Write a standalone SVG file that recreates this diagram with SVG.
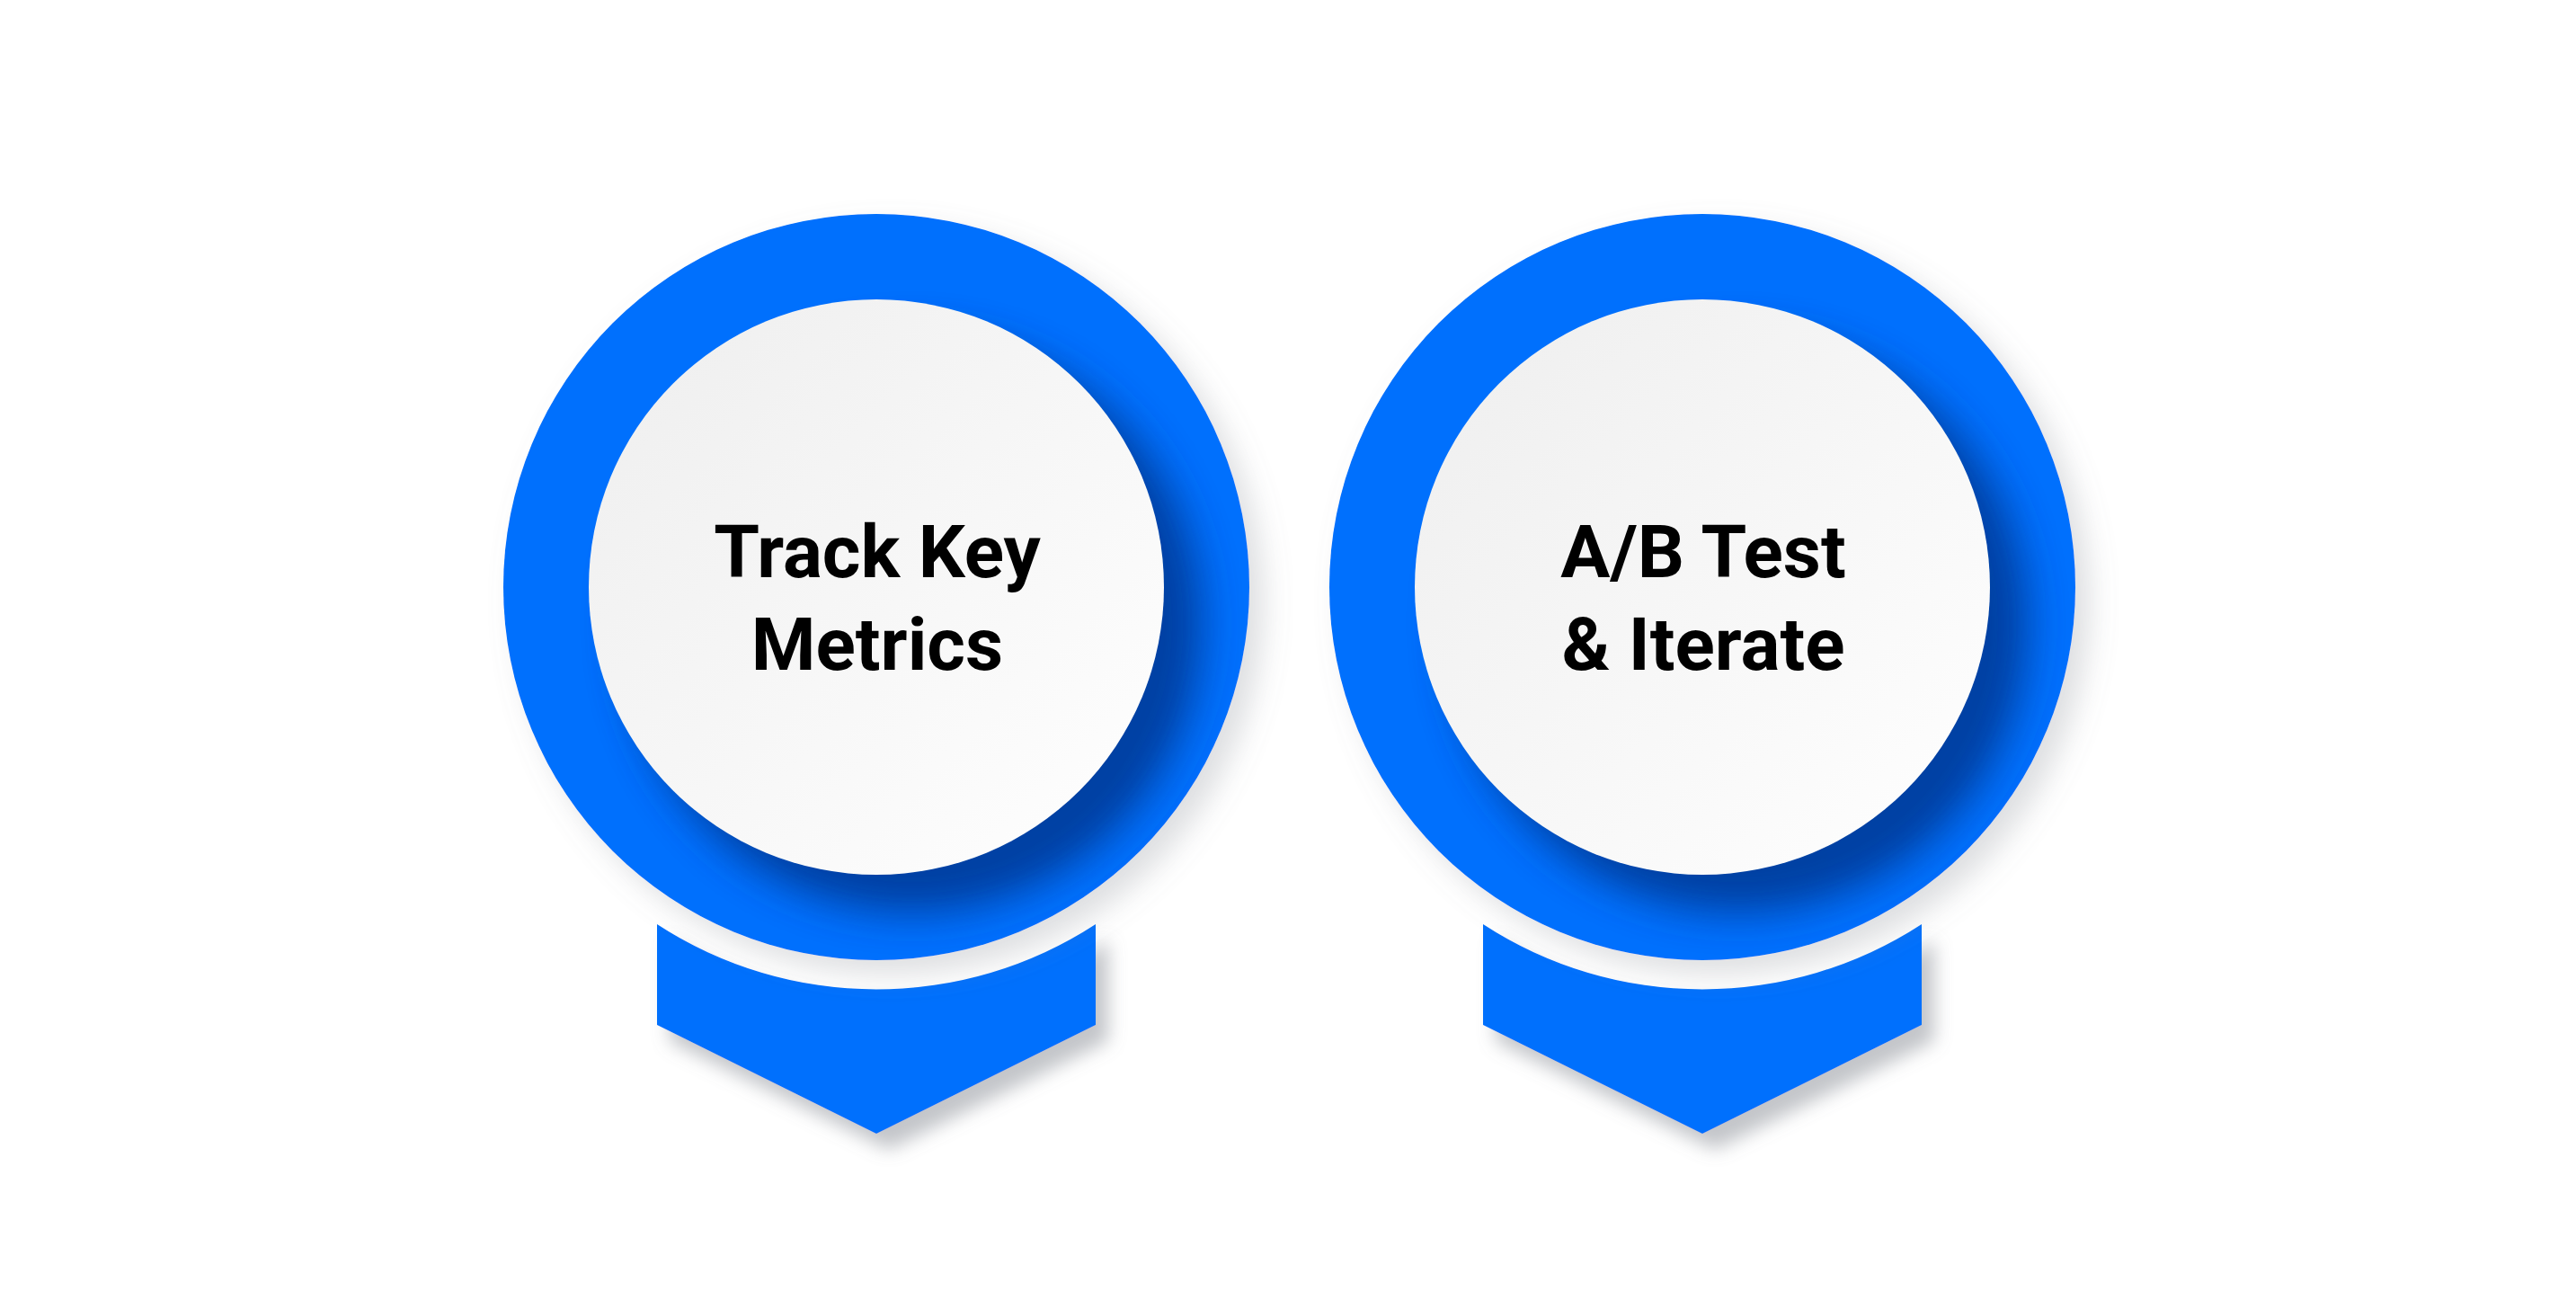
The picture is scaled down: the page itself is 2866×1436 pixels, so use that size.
<svg xmlns="http://www.w3.org/2000/svg" width="2866" height="1436" viewBox="0 0 2866 1436">
<style>
.ring{fill:#0070fd;}
.chev{fill:#0070fd;}
.face{fill:url(#faceGrad);}
.lbl{font-family:Roboto,"Liberation Sans",Arial,sans-serif;font-weight:700;font-size:82px;fill:#000;text-anchor:middle;}
</style>
<defs>
<linearGradient id="faceGrad" x1="0" y1="0" x2="1" y2="1">
<stop offset="0" stop-color="#eeeeee"/>
<stop offset="1" stop-color="#ffffff"/>
</linearGradient>
<filter id="grayShadow" x="-20%" y="-20%" width="150%" height="150%">
<feGaussianBlur in="SourceAlpha" stdDeviation="10"/>
<feOffset dx="14" dy="18" result="b"/>
<feFlood flood-color="#7a7f88" flood-opacity="0.45"/>
<feComposite in2="b" operator="in" result="s"/>
<feMerge><feMergeNode in="s"/><feMergeNode in="SourceGraphic"/></feMerge>
</filter>
<filter id="ringShadow" x="-20%" y="-20%" width="150%" height="150%">
<feGaussianBlur in="SourceAlpha" stdDeviation="16"/>
<feOffset dx="16" dy="16" result="b"/>
<feFlood flood-color="#7a7f88" flood-opacity="0.25"/>
<feComposite in2="b" operator="in" result="s"/>
<feMerge><feMergeNode in="s"/><feMergeNode in="SourceGraphic"/></feMerge>
</filter>
<filter id="innerBlur" x="-30%" y="-30%" width="160%" height="160%">
<feGaussianBlur stdDeviation="22"/>
</filter>
<clipPath id="ringClip"><circle cx="0" cy="0" r="415"/></clipPath>
</defs>
<rect width="2866" height="1436" fill="#ffffff"/>
<g id="connectors"></g>
<g id="node-track" transform="translate(975,653)">
<path class="chev" filter="url(#grayShadow)" d="M -244 375 A 447 447 0 0 0 244 375 L 244 487 L 0 608 L -244 487 Z"/>
<circle class="ring" r="415" filter="url(#ringShadow)"/>
<g clip-path="url(#ringClip)">
<circle cx="40" cy="40" r="322" fill="#00358c" opacity="0.8" filter="url(#innerBlur)"/>
</g>
<circle class="face" r="320"/>
<text class="lbl" x="1" y="-11">Track Key</text>
<text class="lbl" x="1" y="92">Metrics</text>
</g>
<g id="node-abtest" transform="translate(1894,653)">
<path class="chev" filter="url(#grayShadow)" d="M -244 375 A 447 447 0 0 0 244 375 L 244 487 L 0 608 L -244 487 Z"/>
<circle class="ring" r="415" filter="url(#ringShadow)"/>
<g clip-path="url(#ringClip)">
<circle cx="40" cy="40" r="322" fill="#00358c" opacity="0.8" filter="url(#innerBlur)"/>
</g>
<circle class="face" r="320"/>
<text class="lbl" x="1" y="-11">A/B Test</text>
<text class="lbl" x="1" y="92">&amp; Iterate</text>
</g>
</svg>
